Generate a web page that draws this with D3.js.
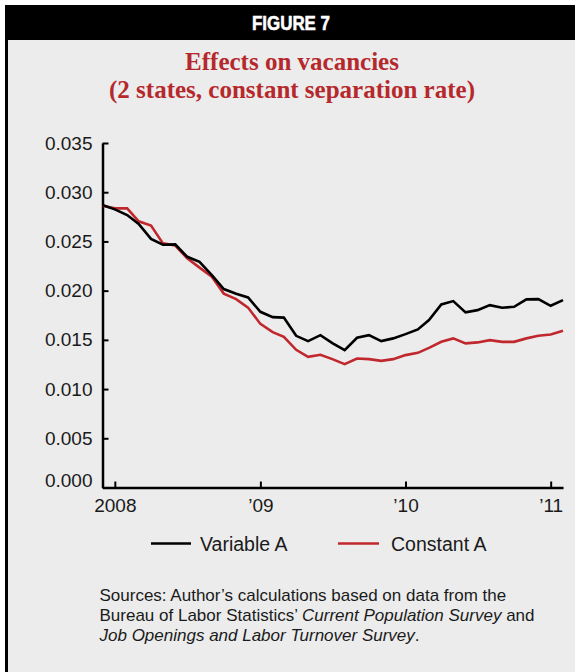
<!DOCTYPE html>
<html>
<head>
<meta charset="utf-8">
<script src="https://cdn.jsdelivr.net/npm/d3@7"></script>
<style>
  html, body { margin: 0; padding: 0; background: #ffffff; }
  svg { display: block; }
</style>
</head>
<body>
<svg id="chart" width="575" height="672"></svg>
<script>
// ---- data (monthly, Dec 2007 – Feb 2011) ----
const startMonth = new Date(2007, 11, 1);
const endMonth = new Date(2011, 2, 1);
const variableA = [
  0.02870, 0.02826, 0.02768, 0.02677, 0.02526, 0.02466, 0.02470, 0.02344, 0.02293, 0.02158,
  0.02016, 0.01968, 0.01931, 0.01785, 0.01731, 0.01726, 0.01541, 0.01487, 0.01548, 0.01467,
  0.01396, 0.01521, 0.01548, 0.01487, 0.01515, 0.01558, 0.01606, 0.01701, 0.01860, 0.01894,
  0.01779, 0.01802, 0.01853, 0.01826, 0.01836, 0.01911, 0.01914, 0.01846, 0.01904
];
const constantA = [
  0.02863, 0.02836, 0.02836, 0.02704, 0.02661, 0.02480, 0.02458, 0.02328, 0.02234, 0.02141,
  0.01970, 0.01914, 0.01828, 0.01662, 0.01579, 0.01531, 0.01399, 0.01328, 0.01348, 0.01304,
  0.01253, 0.01311, 0.01304, 0.01287, 0.01304, 0.01345, 0.01368, 0.01419, 0.01480, 0.01515,
  0.01464, 0.01474, 0.01497, 0.01480, 0.01480, 0.01515, 0.01541, 0.01555, 0.01592
];
const yTicks = [0, 0.005, 0.010, 0.015, 0.020, 0.025, 0.030, 0.035];
const yTickLabels = ["0.000", "0.005", "0.010", "0.015", "0.020", "0.025", "0.030", "0.035"];
const xTickYears = [2008, 2009, 2010, 2011];
const xTickLabels = ["2008", "\u201909", "\u201910", "\u201911"];
const seriesNames = ["Variable A", "Constant A"];
const seriesColors = ["#000000", "#c0282d"];
const figureLabel = "FIGURE 7";
const titleLines = ["Effects on vacancies", "(2 states, constant separation rate)"];

// ---- drawing ----
const svg = d3.select("#chart");
const W = 575, H = 672;

// frame
svg.append("rect").attr("x", 5).attr("y", 5).attr("width", W - 5).attr("height", H - 5).attr("fill", "#000");
svg.append("rect").attr("x", 8).attr("y", 40).attr("width", W - 8).attr("height", H - 40).attr("fill", "#ececec");

svg.append("text")
  .attr("x", 291).attr("y", 29.5)
  .attr("text-anchor", "middle")
  .attr("fill", "#fff")
  .attr("font-family", "'Liberation Sans', Arial, sans-serif")
  .attr("font-weight", "bold")
  .attr("font-size", 21)
  .attr("stroke", "#fff").attr("stroke-width", 0.6)
  .attr("textLength", 78)
  .attr("lengthAdjust", "spacingAndGlyphs")
  .text(figureLabel);

const title = svg.append("text")
  .attr("text-anchor", "middle")
  .attr("fill", "#b5292c")
  .attr("font-family", "'Liberation Serif', 'Times New Roman', serif")
  .attr("font-weight", "bold")
  .attr("font-size", 25);
titleLines.forEach((t, i) => {
  title.append("tspan").attr("x", 292).attr("y", 69.5 + i * 28).text(t);
});

const months = d3.timeMonth.range(startMonth, endMonth);
const x = d3.scaleTime().domain([months[0], months[months.length - 1]]).range([102.5, 563]);
const y = d3.scaleLinear().domain([0, 0.035]).range([487.5, 143]);

const fontSans = "'Liberation Sans', Arial, Helvetica, sans-serif";

// y axis
const yAxis = d3.axisLeft(y)
  .tickValues(yTicks)
  .tickFormat((d, i) => yTickLabels[i])
  .tickSize(-6).tickSizeOuter(0).tickPadding(10);
const gy = svg.append("g").attr("transform", "translate(102.5,0)").call(yAxis);
gy.select(".domain").attr("stroke", "#000").attr("stroke-width", 2.5);
gy.selectAll(".tick line").attr("stroke", "#000").attr("stroke-width", 2);
gy.selectAll(".tick text")
  .attr("font-family", fontSans).attr("font-size", 19).attr("fill", "#1a1a1a")
  .attr("dy", (d) => d === 0 ? "-0.05em" : "0.32em");

// x axis
const xAxis = d3.axisBottom(x)
  .tickValues(xTickYears.map(yr => new Date(yr, 0, 1)))
  .tickFormat((d, i) => xTickLabels[i])
  .tickSize(-6).tickSizeOuter(0).tickPadding(11);
const gx = svg.append("g").attr("transform", "translate(0,487.5)").call(xAxis);
gx.select(".domain").attr("stroke", "#000").attr("stroke-width", 2.5);
gx.selectAll(".tick line").attr("stroke", "#000").attr("stroke-width", 2);
gx.selectAll(".tick text")
  .attr("font-family", fontSans).attr("font-size", 19).attr("fill", "#1a1a1a");

// lines
const line = d3.line().x((d, i) => x(months[i])).y(d => y(d));
[constantA, variableA].forEach((s, k) => {
  svg.append("path")
    .datum(s)
    .attr("d", line)
    .attr("fill", "none")
    .attr("stroke", k === 0 ? seriesColors[1] : seriesColors[0])
    .attr("stroke-width", 2.6)
    .attr("stroke-linejoin", "miter");
});

// legend
const legendItems = [{x0: 151, x1: 191, tx: 200}, {x0: 338, x1: 379, tx: 391}];
legendItems.forEach((p, i) => {
  svg.append("line").attr("x1", p.x0).attr("x2", p.x1).attr("y1", 543.5).attr("y2", 543.5)
    .attr("stroke", seriesColors[i]).attr("stroke-width", 2.6);
  svg.append("text").attr("x", p.tx).attr("y", 551)
    .attr("font-family", fontSans).attr("font-size", 19.5).attr("fill", "#1a1a1a")
    .text(seriesNames[i]);
});

// sources
const src = svg.append("text")
  .attr("font-family", fontSans).attr("font-size", 17).attr("fill", "#1a1a1a");
const l1 = src.append("tspan").attr("x", 99.5).attr("y", 600.5).text("Sources: Author\u2019s calculations based on data from the");
const l2 = src.append("tspan").attr("x", 99.5).attr("y", 620.5);
l2.append("tspan").text("Bureau of Labor Statistics\u2019 ");
l2.append("tspan").attr("font-style", "italic").text("Current Population Survey");
l2.append("tspan").text(" and");
const l3 = src.append("tspan").attr("x", 99.5).attr("y", 640.5);
l3.append("tspan").attr("font-style", "italic").text("Job Openings and Labor Turnover Survey");
l3.append("tspan").text(".");
</script>
</body>
</html>
